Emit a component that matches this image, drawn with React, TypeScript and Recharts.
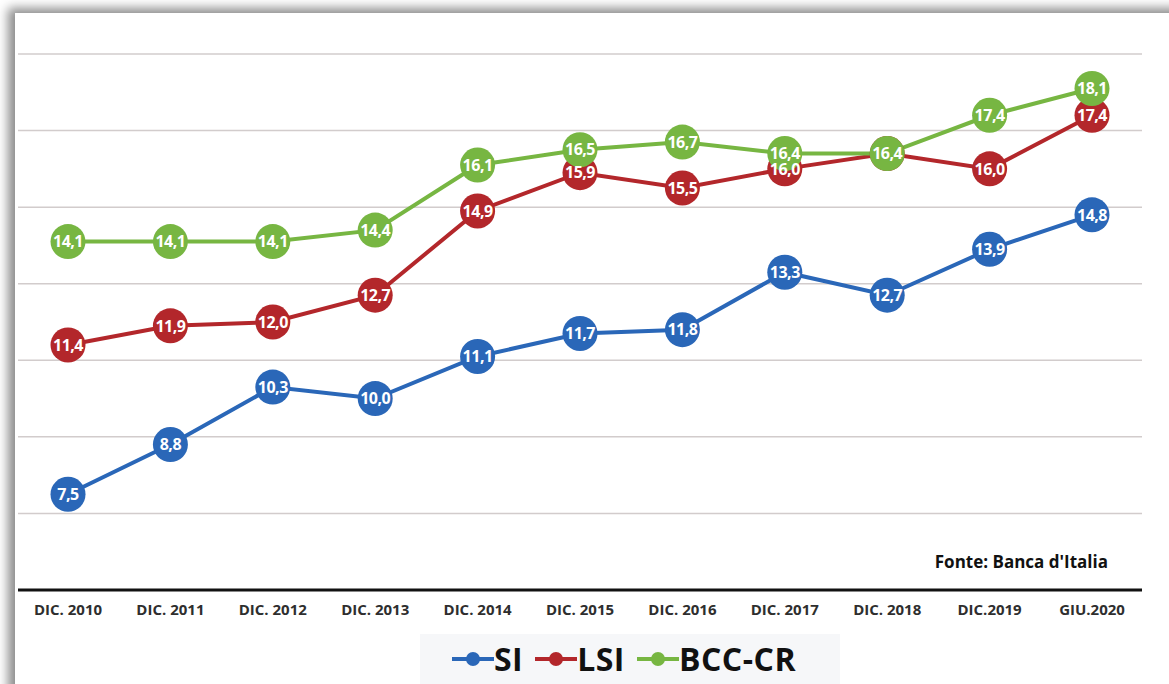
import React from 'react';
import { LineChart, Line, XAxis, YAxis, CartesianGrid, Legend, LabelList } from 'recharts';

const categories = ['DIC. 2010', 'DIC. 2011', 'DIC. 2012', 'DIC. 2013', 'DIC. 2014', 'DIC. 2015', 'DIC. 2016', 'DIC. 2017', 'DIC. 2018', 'DIC.2019', 'GIU.2020'];
const siValues = [7.5, 8.8, 10.3, 10.0, 11.1, 11.7, 11.8, 13.3, 12.7, 13.9, 14.8];
const lsiValues = [11.4, 11.9, 12.0, 12.7, 14.9, 15.9, 15.5, 16.0, 16.4, 16.0, 17.4];
const bccValues = [14.1, 14.1, 14.1, 14.4, 16.1, 16.5, 16.7, 16.4, 16.4, 17.4, 18.1];
const yTicks = [5, 7, 9, 11, 13, 15, 17, 19];

const data = categories.map((c, i) => ({ name: c, SI: siValues[i], LSI: lsiValues[i], 'BCC-CR': bccValues[i] }));

const BLUE = '#2a67b8';
const RED = '#b3272b';
const GREEN = '#77b642';
const FONT = '"Open Sans", sans-serif';

const fmt = (v: any) => Number(v).toFixed(1).replace('.', ',');

const makeDot = (color: string) => (props: any) => {
  const { cx, cy, index } = props;
  if (cx == null || cy == null) return <g key={index} />;
  return <circle key={index} cx={cx} cy={cy} r={17.5} fill={color} stroke="none" />;
};

// label drawn in the dot; a label hidden beneath an identical point of a series drawn above is skipped
const makeLabel = (hiddenUnder?: number[]) => (props: any) => {
  const { x, y, width, height, value, index } = props;
  if (hiddenUnder && hiddenUnder[index] === value) return null;
  const cx = x + (width || 0) / 2;
  const cy = y + (height || 0) / 2;
  return (
    <text x={cx} y={cy} dy="0.36em" textAnchor="middle" fill="#ffffff" fontSize={16} fontWeight={700} style={{ letterSpacing: '-0.5px' }}>
      {fmt(value)}
    </text>
  );
};

const LegendContent = () => {
  const items = [
    { label: 'SI', color: BLUE },
    { label: 'LSI', color: RED },
    { label: 'BCC-CR', color: GREEN },
  ];
  return (
    <div style={{ display: 'flex', alignItems: 'center', justifyContent: 'center', height: '100%', background: '#f6f7f9', fontFamily: FONT }}>
      {items.map((it) => (
        <div key={it.label} style={{ display: 'flex', alignItems: 'center', marginRight: 12 }}>
          <svg width={42} height={20} style={{ display: 'block' }}>
            <line x1={0} y1={10} x2={42} y2={10} stroke={it.color} strokeWidth={4} />
            <circle cx={21} cy={10} r={7} fill={it.color} />
          </svg>
          <span style={{ fontSize: 32, fontWeight: 700, color: '#111', lineHeight: '34px', letterSpacing: '0.5px' }}>{it.label}</span>
        </div>
      ))}
    </div>
  );
};

export default function App() {
  return (
    <div style={{ position: 'absolute', left: 0, top: 0, width: 1169, height: 684, background: '#ffffff', overflow: 'hidden', fontFamily: FONT }}>
      <div style={{ position: 'absolute', left: 15, top: 13, width: 1200, height: 720, background: '#ffffff', boxShadow: '-7px -5px 10px 0px rgba(0,0,0,0.45)' }} />
      <div style={{ position: 'absolute', left: 0, top: 0 }}>
        <LineChart width={1169} height={684} data={data} margin={{ top: 54, right: 27, left: 18, bottom: 64 }}>
          <CartesianGrid horizontal vertical={false} stroke="#d2cccc" strokeWidth={1.5} />
          <XAxis
            dataKey="name"
            height={30}
            padding={{ left: 50, right: 50 }}
            axisLine={{ stroke: '#111', strokeWidth: 3 }}
            tickLine={false}
            tick={{ fill: '#2e2e2e', fontSize: 15, fontWeight: 700 }}
            tickMargin={8}
            interval={0}
          />
          <YAxis hide domain={[5, 19]} ticks={yTicks} />
          <Legend
            layout="horizontal"
            verticalAlign="middle"
            align="center"
            content={<LegendContent />}
            wrapperStyle={{ position: 'absolute', left: 420, top: 634, width: 420, height: 50 }}
          />
          <Line dataKey="SI" stroke={BLUE} strokeWidth={4} dot={makeDot(BLUE)} activeDot={false} isAnimationActive={false}>
            <LabelList dataKey="SI" content={makeLabel()} />
          </Line>
          <Line dataKey="LSI" stroke={RED} strokeWidth={4} dot={makeDot(RED)} activeDot={false} isAnimationActive={false}>
            <LabelList dataKey="LSI" content={makeLabel(bccValues)} />
          </Line>
          <Line dataKey="BCC-CR" stroke={GREEN} strokeWidth={4} dot={makeDot(GREEN)} activeDot={false} isAnimationActive={false}>
            <LabelList dataKey="BCC-CR" content={makeLabel()} />
          </Line>
        </LineChart>
      </div>
      <div style={{ position: 'absolute', right: 61, top: 550, fontSize: 17, fontWeight: 700, color: '#111' }}>Fonte: Banca d'Italia</div>
    </div>
  );
}
